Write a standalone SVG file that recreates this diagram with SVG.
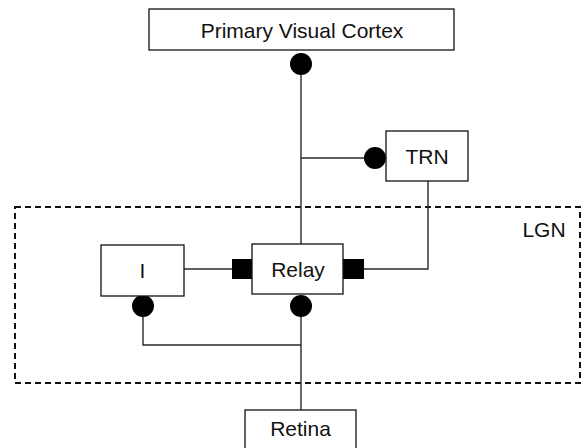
<svg xmlns="http://www.w3.org/2000/svg" width="588" height="448" viewBox="0 0 588 448">
  <style>
    .box { fill: #ffffff; stroke: #111111; stroke-width: 1.3; }
    .wire { fill: none; stroke: #2a2a2a; stroke-width: 1.4; }
    .label { font-family: "Liberation Sans", Arial, sans-serif; font-size: 21px; fill: #111111; text-anchor: middle; }
    .dot { fill: #000000; }
    .block { fill: #000000; }
    .region { fill: none; stroke: #111111; stroke-width: 2; stroke-dasharray: 6 4; }
  </style>

  <!-- LGN region outline -->
  <g id="lgn">
    <rect class="region" x="15" y="207" width="565" height="176"/>
    <text class="label" x="544" y="237">LGN</text>
  </g>

  <!-- connectors and synapse endings -->
  <g id="connectors">
    <!-- cortex to relay -->
    <line class="wire" x1="301" y1="64" x2="301" y2="244"/>
    <!-- branch to TRN -->
    <line class="wire" x1="301" y1="158" x2="374" y2="158"/>
    <!-- TRN to relay -->
    <polyline class="wire" points="428,181 428,269 364,269"/>
    <!-- interneuron to relay -->
    <line class="wire" x1="184" y1="269" x2="232" y2="269"/>
    <!-- retina input to relay and interneuron -->
    <line class="wire" x1="301" y1="306" x2="301" y2="410"/>
    <polyline class="wire" points="143,306 143,345 301,345"/>

    <circle class="dot" cx="301" cy="64" r="11"/>
    <circle class="dot" cx="375" cy="158" r="11"/>
    <circle class="dot" cx="143" cy="306" r="11"/>
    <circle class="dot" cx="301" cy="306" r="11"/>
    <rect class="block" x="232" y="259" width="20" height="20"/>
    <rect class="block" x="343" y="259" width="21" height="20"/>
  </g>

  <g id="cortex">
    <rect class="box" x="149" y="9" width="305" height="41"/>
    <text class="label" x="302" y="38">Primary Visual Cortex</text>
  </g>

  <g id="trn">
    <rect class="box" x="386" y="131" width="82" height="50"/>
    <text class="label" x="427" y="164">TRN</text>
  </g>

  <g id="interneuron">
    <rect class="box" x="101" y="245" width="83" height="51"/>
    <text class="label" x="142.5" y="278">I</text>
  </g>

  <g id="relay">
    <rect class="box" x="252" y="244" width="91" height="50"/>
    <text class="label" x="298" y="277">Relay</text>
  </g>

  <g id="retina">
    <rect class="box" x="245" y="410" width="111" height="50"/>
    <text class="label" x="300.5" y="436">Retina</text>
  </g>
</svg>
